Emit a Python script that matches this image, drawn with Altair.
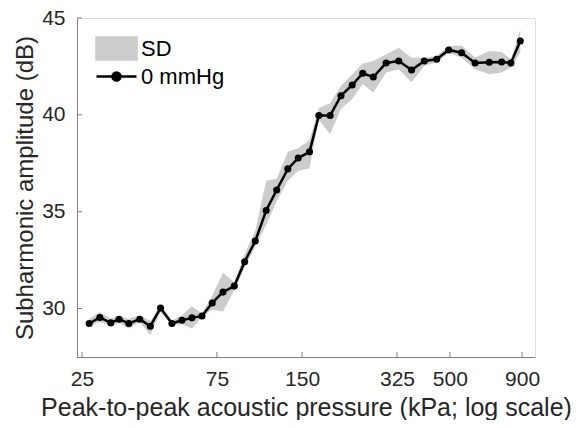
import altair as alt
import pandas as pd

pressure = [26.5, 28.9, 31.6, 33.8, 36.6, 40.0, 43.6, 47.4, 52.0, 56.4, 61.2, 66.4, 72.2, 78.8,
            86.4, 94.0, 102.5, 112, 122, 133.6, 145.4, 159.4, 172, 188.6, 206, 225.7, 246, 268,
            297.5, 329.6, 366, 406, 449, 495, 550, 614, 689, 762, 822, 887]
amplitude = [29.23, 29.54, 29.26, 29.45, 29.23, 29.45, 29.09, 30.03, 29.23, 29.40, 29.52, 29.62,
             30.29, 30.85, 31.16, 32.42, 33.49, 35.06, 36.12, 37.21, 37.77, 38.09, 39.97, 39.97,
             40.99, 41.54, 42.15, 41.95, 42.68, 42.78, 42.32, 42.78, 42.87, 43.35, 43.21, 42.68,
             42.72, 42.73, 42.68, 43.81]
sd_upper = [29.48, 29.82, 29.48, 29.6, 29.48, 29.65, 29.36, 30.17, 29.4, 29.65, 30.12, 29.74,
            30.68, 31.85, 31.36, 32.81, 34.0, 36.6, 36.7, 38.1, 38.27, 38.7, 40.35, 40.6,
            41.5, 42.1, 42.65, 42.78, 43.12, 43.47, 42.95, 42.95, 43.04, 43.55, 43.58, 42.95,
            43.3, 43.24, 42.87, 44.4]
sd_lower = [29.09, 29.31, 29.14, 29.26, 28.97, 29.31, 28.63, 29.82, 29.14, 29.19, 28.97, 29.57,
            29.94, 29.85, 30.95, 32.13, 33.2, 34.3, 35.54, 36.6, 37.1, 37.25, 39.75, 39.0,
            40.31, 40.82, 41.59, 41.16, 42.19, 42.36, 41.68, 42.53, 42.7, 43.21, 42.95, 42.36,
            42.1, 42.19, 42.44, 43.21]

x_ticks = [25, 75, 150, 325, 500, 900]
y_ticks = [30, 35, 40, 45]
series_names = ["SD", "0 mmHg"]

W, H = 458, 339
FONT = "Liberation Sans"
AXIS_GRAY = "#808080"
TEXT = "#262626"

df = pd.DataFrame({"p": pressure, "amp": amplitude, "hi": sd_upper, "lo": sd_lower})
xt = pd.DataFrame({"t": x_ticks})
yt = pd.DataFrame({"t": y_ticks})

xscale = alt.Scale(type="log", domain=[24, 1000], nice=False)
yscale = alt.Scale(domain=[27.5, 45], nice=False, zero=False)

xaxis = alt.Axis(values=x_ticks, format="d", title="Peak-to-peak acoustic pressure (kPa; log scale)",
                 grid=False, ticks=False, tickSize=0, labelPadding=11, titlePadding=6,
                 labelFontSize=21, titleFontSize=25, labelFont=FONT, titleFont=FONT,
                 labelColor=TEXT, titleColor=TEXT, titleFontWeight="normal",
                 domainColor=AXIS_GRAY, labelFlush=False, labelOverlap=False)
yaxis = alt.Axis(values=y_ticks, format="d", title="Subharmonic amplitude (dB)",
                 grid=False, ticks=False, tickSize=0, labelPadding=12, titlePadding=4,
                 labelFontSize=21, titleFontSize=24, labelFont=FONT, titleFont=FONT,
                 labelColor=TEXT, titleColor=TEXT, titleFontWeight="normal",
                 domainColor=AXIS_GRAY, labelFlush=False, labelOverlap=False)

# symbol size 400 -> path unit = 10 px
rect_path = "M-2,-1.1H2V1.1H-2Z"
line_path = "M-2,0H2M0.4,0A0.4,0.4,0,1,1,-0.4,0A0.4,0.4,0,1,1,0.4,0"

legend = alt.Legend(
    title=None, orient="none", legendX=18, legendY=19, symbolSize=400, rowPadding=-2,
    symbolOffset=10, labelOffset=13,
    labelFontSize=22, labelFont=FONT, labelColor="#000000", padding=0,
    symbolType={"expr": f"datum.value === 'SD' ? '{rect_path}' : '{line_path}'"},
    symbolFillColor={"expr": "datum.value === 'SD' ? '#cccccc' : '#000000'"},
    symbolStrokeColor={"expr": "datum.value === 'SD' ? '#cccccc' : '#000000'"},
    symbolStrokeWidth=2.5,
    symbolOpacity=1,
)

color = alt.Color("series:N", scale=alt.Scale(domain=series_names, range=["#cccccc", "#000000"]),
                  legend=legend)

base = alt.Chart(df)

band = base.transform_calculate(series="'SD'").mark_area(opacity=1).encode(
    x=alt.X("p:Q", scale=xscale, axis=xaxis),
    y=alt.Y("lo:Q", scale=yscale, axis=yaxis),
    y2="hi:Q",
    color=color,
)

line = base.transform_calculate(series="'0 mmHg'").mark_line(strokeWidth=2.5).encode(
    x=alt.X("p:Q", scale=xscale, axis=xaxis),
    y=alt.Y("amp:Q", scale=yscale, axis=yaxis),
    color=color,
)

points = base.mark_point(filled=True, size=50, opacity=1, color="#000000").encode(
    x=alt.X("p:Q", scale=xscale, axis=xaxis),
    y=alt.Y("amp:Q", scale=yscale, axis=yaxis),
)

xtick_rules = alt.Chart(xt).mark_rule(color=AXIS_GRAY, strokeWidth=1).encode(
    x=alt.X("t:Q", scale=xscale, axis=xaxis),
    y=alt.value(H),
    y2=alt.value(H - 5),
)
ytick_rules = alt.Chart(yt).mark_rule(color=AXIS_GRAY, strokeWidth=1).encode(
    y=alt.Y("t:Q", scale=yscale, axis=yaxis),
    x=alt.value(0),
    x2=alt.value(5),
)

chart = alt.layer(band, line, points, xtick_rules, ytick_rules).properties(
    width=W, height=H,
    autosize=alt.AutoSizeParams(type="none"),
    padding={"left": 69, "top": 10, "right": 37, "bottom": 63},
).configure_view(stroke=None).configure(background="white")

chart.save("out.html", embed_options={"renderer": "svg", "actions": False})
